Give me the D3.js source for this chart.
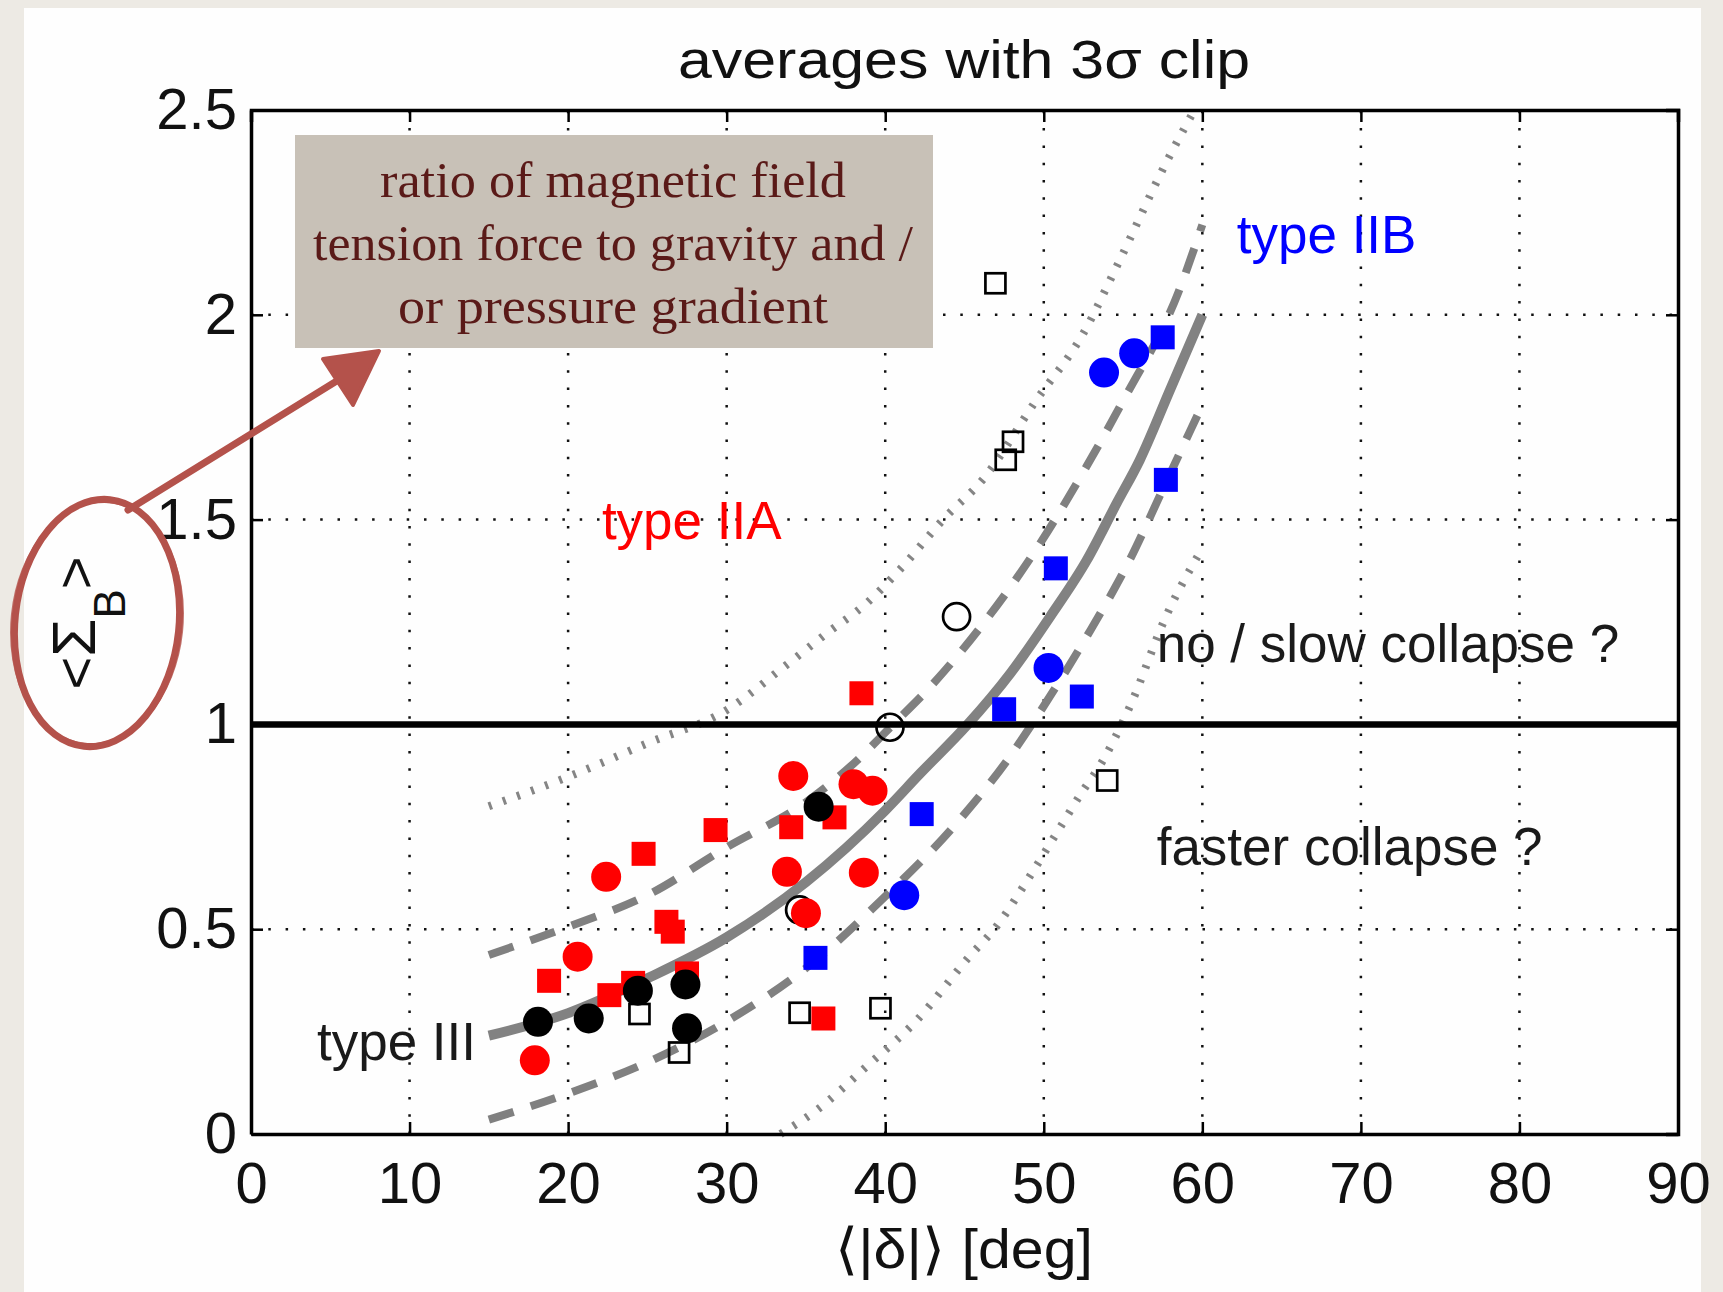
<!DOCTYPE html>
<html>
<head>
<meta charset="utf-8">
<script src="https://cdn.jsdelivr.net/npm/d3@7"></script>
<style>
  body { margin: 0; background: #edeae4; }
</style>
</head>
<body>
<div id="chart"></div>
<script>
// values: [ <|delta|> (deg), <Sigma_B> ]
const xTicks = [0, 10, 20, 30, 40, 50, 60, 70, 80, 90];
const yTicks = [0, 0.5, 1, 1.5, 2, 2.5];

const redCircles = [[17.9,0.18],[20.6,0.433],[22.4,0.628],[34.2,0.874],[38.0,0.854],[39.2,0.838],[33.8,0.64],[38.65,0.638],[35.0,0.539]];
const redSquares = [[38.5,1.076],[29.3,0.742],[24.76,0.684],[34.07,0.749],[36.8,0.773],[26.2,0.518],[26.6,0.494],[18.8,0.374],[22.6,0.339],[24.1,0.369],[27.5,0.392],[36.1,0.282]];
const blackCircles = [[18.1,0.274],[21.3,0.282],[24.4,0.35],[27.4,0.365],[27.5,0.258],[35.8,0.799]];
const openCircles = [[40.3,0.993],[34.6,0.547],[44.5,1.263]];
const openSquares = [[24.5,0.293],[27.0,0.199],[34.6,0.296],[39.7,0.307],[54.0,0.863],[46.95,2.077],[48.06,1.69],[47.6,1.646]];
const blueCircles = [[53.8,1.859],[55.7,1.906],[50.3,1.138],[41.2,0.583]];
const blueSquares = [[57.5,1.945],[57.7,1.597],[50.76,1.381],[47.5,1.037],[52.4,1.068],[42.3,0.781],[35.6,0.43]];

// fit curve and its bands
const fitMid = [[15,0.24],[20,0.295],[25,0.38],[30,0.48],[35,0.615],[40,0.79],[42.2,0.88],[45.2,1.0],[47.9,1.125],[50.4,1.263],[52.7,1.4],[54.6,1.54],[56.05,1.645],[58,1.82],[60,2.0]];
const fitUpper = [[15,0.437],[20,0.506],[25,0.583],[30,0.7],[35,0.81],[37.8,0.897],[40.5,1.0],[42.8,1.09],[46.2,1.247],[49.5,1.426],[52.7,1.63],[55,1.79],[58.5,2.056],[60,2.22]];
const fitLower = [[15,0.035],[20,0.099],[25,0.175],[30,0.275],[35,0.405],[40,0.58],[44.3,0.75],[47.65,0.91],[50,1.045],[52.7,1.214],[55.4,1.4],[57.7,1.59],[60,1.78]];
const envUpper = [[15,0.8],[20,0.872],[25,0.954],[30,1.035],[33.6,1.14],[36.3,1.222],[38.8,1.295],[40.9,1.377],[43.65,1.5],[46.2,1.6],[49.5,1.79],[52.5,1.955],[54.6,2.118],[57.7,2.37],[59.5,2.5]];
const envLower = [[33.4,0],[35.7,0.059],[38.8,0.164],[42,0.278],[45.3,0.433],[47,0.506],[49.1,0.628],[50.8,0.734],[52.5,0.84],[53.5,0.897],[55.5,1.05],[57.7,1.263],[60,1.43]];

const regionLabels = [
  {text: "type IIA", x: 22.13, y: 1.453, color: "#ff0000"},
  {text: "type IIB", x: 62.17, y: 2.151, color: "#0000ff"},
  {text: "type III", x: 4.16, y: 0.181, color: "#1a1a1a"},
  {text: "no / slow collapse ?", x: 57.12, y: 1.152, color: "#1a1a1a"},
  {text: "faster collapse ?", x: 57.12, y: 0.657, color: "#1a1a1a"},
];
const noteLines = ["ratio of magnetic field", "tension force to gravity and /", "or pressure gradient"];

let settings = {
  width: 1723,
  height: 1292,
  marginTop: 110,
  marginRight: 45,
  marginBottom: 158,
  marginLeft: 251,
  font: "'Liberation Sans', Arial, Helvetica, sans-serif",
  id: "#chart",
};

function drawChart(conf) {
  const svg = d3.create("svg")
      .attr("width", conf.width)
      .attr("height", conf.height)
      .attr("viewBox", [0, 0, conf.width, conf.height]);

  // white figure sheet on the beige page
  svg.append("rect")
      .attr("x", 24).attr("y", 8)
      .attr("width", 1677).attr("height", 1290)
      .attr("fill", "#fefefe");

  const x = d3.scaleLinear([0, 90], [conf.marginLeft, conf.width - conf.marginRight]);
  const y = d3.scaleLinear([0, 2.5], [conf.height - conf.marginBottom, conf.marginTop]);

  // dotted grid
  const grid = svg.append("g")
      .attr("stroke", "#111")
      .attr("stroke-width", 2.5)
      .attr("stroke-dasharray", "2.5,14.8");
  grid.selectAll(".gx").data(xTicks.slice(1, -1)).join("line")
      .attr("x1", d => x(d)).attr("x2", d => x(d))
      .attr("y1", y(0)).attr("y2", y(2.5));
  grid.selectAll(".gy").data(yTicks.slice(1, -1)).join("line")
      .attr("x1", x(0)).attr("x2", x(90))
      .attr("y1", d => y(d)).attr("y2", d => y(d));

  // curves
  const line = d3.line()
      .curve(d3.curveMonotoneX)
      .x(d => x(d[0]))
      .y(d => y(d[1]));
  const curves = [
    {data: envUpper, width: 8, dash: "3,12", color: "#858585"},
    {data: envLower, width: 8, dash: "3,12", color: "#858585"},
    {data: fitUpper, width: 8, dash: "26,18", color: "#808080"},
    {data: fitLower, width: 8, dash: "26,18", color: "#808080"},
    {data: fitMid, width: 10, dash: null, color: "#828282"},
  ];
  svg.append("g").selectAll("path").data(curves).join("path")
      .attr("fill", "none")
      .attr("stroke", d => d.color)
      .attr("stroke-width", d => d.width)
      .attr("stroke-dasharray", d => d.dash)
      .attr("d", d => line(d.data));

  // <Sigma_B> = 1 line
  svg.append("line")
      .attr("x1", x(0)).attr("x2", x(90))
      .attr("y1", y(1)).attr("y2", y(1))
      .attr("stroke", "#000")
      .attr("stroke-width", 6.5);

  // markers
  const addSquares = (data, side, fill, stroke) => {
    svg.append("g").selectAll("rect").data(data).join("rect")
        .attr("x", d => x(d[0]) - side / 2)
        .attr("y", d => y(d[1]) - side / 2)
        .attr("width", side).attr("height", side)
        .attr("fill", fill)
        .attr("stroke", stroke)
        .attr("stroke-width", stroke == "none" ? 0 : 2.7);
  };
  const addCircles = (data, r, fill, stroke) => {
    svg.append("g").selectAll("circle").data(data).join("circle")
        .attr("cx", d => x(d[0]))
        .attr("cy", d => y(d[1]))
        .attr("r", r)
        .attr("fill", fill)
        .attr("stroke", stroke)
        .attr("stroke-width", stroke == "none" ? 0 : 2.7);
  };
  addSquares(openSquares, 20, "none", "#000");
  addCircles(openCircles, 13.5, "none", "#000");
  addSquares(redSquares, 24, "#ff0000", "none");
  addCircles(redCircles, 15, "#ff0000", "none");
  addCircles(blackCircles, 15, "#000", "none");
  addSquares(blueSquares, 24, "#0000ff", "none");
  addCircles(blueCircles, 15, "#0000ff", "none");

  // axes box with inward ticks
  const xAxis = d3.axisBottom(x).tickValues(xTicks).tickSizeInner(-12).tickSizeOuter(0).tickPadding(28);
  const yAxis = d3.axisLeft(y).tickValues(yTicks).tickSizeInner(-12).tickSizeOuter(0).tickPadding(14).tickFormat(d => d);
  const axes = [
    svg.append("g").attr("transform", `translate(0,${y(0)})`).call(xAxis),
    svg.append("g").attr("transform", `translate(0,${y(2.5)})`).call(d3.axisTop(x).tickValues(xTicks).tickSize(-12).tickFormat("")),
    svg.append("g").attr("transform", `translate(${x(0)},0)`).call(yAxis),
    svg.append("g").attr("transform", `translate(${x(90)},0)`).call(d3.axisRight(y).tickValues(yTicks).tickSize(-12).tickFormat("")),
  ];
  axes.forEach(g => {
    g.attr("font-family", conf.font).attr("font-size", 58);
    g.select(".domain").attr("stroke", "#000").attr("stroke-width", 3.5);
    g.selectAll(".tick line").attr("stroke", "#000").attr("stroke-width", 2.5);
    g.selectAll(".tick text").attr("fill", "#111");
  });

  // region labels
  svg.append("g").selectAll("text").data(regionLabels).join("text")
      .attr("x", d => x(d.x))
      .attr("y", d => y(d.y))
      .attr("font-family", conf.font)
      .attr("font-size", 53)
      .attr("fill", d => d.color)
      .text(d => d.text);

  // title and axis labels
  svg.append("text")
      .attr("x", 964).attr("y", 78)
      .attr("text-anchor", "middle")
      .attr("font-family", conf.font)
      .attr("font-size", 54)
      .attr("textLength", 572)
      .attr("lengthAdjust", "spacingAndGlyphs")
      .attr("fill", "#111")
      .text("averages with 3σ clip");
  svg.append("text")
      .attr("x", 964).attr("y", 1268)
      .attr("text-anchor", "middle")
      .attr("font-family", conf.font)
      .attr("font-size", 56)
      .attr("textLength", 258)
      .attr("lengthAdjust", "spacingAndGlyphs")
      .attr("fill", "#111")
      .text("⟨|δ|⟩ [deg]");
  const yl = svg.append("text")
      .attr("transform", "translate(95,623) rotate(-90)")
      .attr("text-anchor", "middle")
      .attr("font-family", conf.font)
      .attr("font-size", 56)
      .attr("fill", "#111");
  yl.append("tspan").text("<");
  yl.append("tspan").attr("font-size", 62).text("Σ");
  yl.append("tspan").attr("dy", 30).attr("font-size", 44).text("B");
  yl.append("tspan").attr("dy", -30).text(">");

  // annotation box
  svg.append("rect")
      .attr("x", 295).attr("y", 135)
      .attr("width", 638).attr("height", 213)
      .attr("fill", "#c8c1b7");
  const noteWidths = [466, 600, 430];
  svg.append("g").selectAll("text").data(noteLines).join("text")
      .attr("x", 613)
      .attr("y", (d, i) => 197 + i * 63)
      .attr("text-anchor", "middle")
      .attr("font-family", "'Palatino Linotype', Palatino, 'Book Antiqua', 'Liberation Serif', serif")
      .attr("font-size", 50)
      .attr("textLength", (d, i) => noteWidths[i])
      .attr("lengthAdjust", "spacingAndGlyphs")
      .attr("fill", "#5a1a18")
      .text(d => d);

  // hand-drawn ellipse and arrow
  const red = "#b4524b";
  const ell = svg.append("g").attr("transform", "translate(97,623) rotate(6)")
      .attr("fill", "none").attr("stroke", red);
  ell.append("ellipse").attr("rx", 82).attr("ry", 124).attr("stroke-width", 7);
  ell.append("ellipse").attr("rx", 85).attr("ry", 122).attr("stroke-width", 3).attr("opacity", 0.8);
  svg.append("path")
      .attr("d", "M128,510 L348,374")
      .attr("stroke", red)
      .attr("stroke-width", 7)
      .attr("stroke-linecap", "round");
  svg.append("path")
      .attr("d", "M379,351 L323,359 L353,405 Z")
      .attr("fill", red)
      .attr("stroke", red)
      .attr("stroke-width", 4)
      .attr("stroke-linejoin", "round");

  d3.select(conf.id).node().append(svg.node());
}

drawChart(settings);
</script>
</body>
</html>
